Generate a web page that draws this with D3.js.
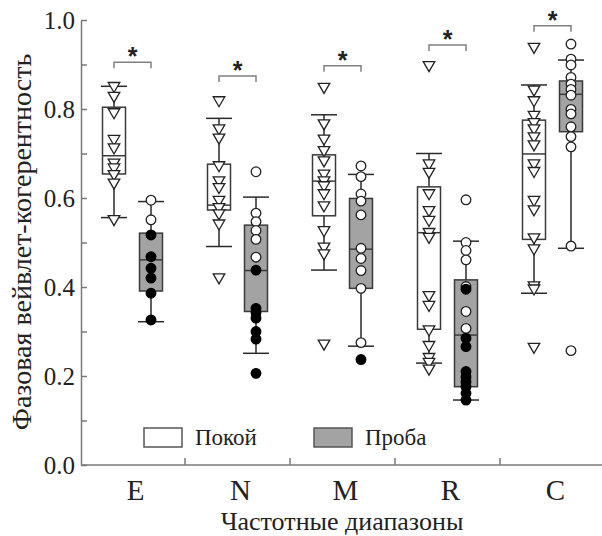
<!DOCTYPE html>
<html lang="ru">
<head>
<meta charset="UTF-8">
<title>Фазовая вейвлет-когерентность</title>
<script src="https://d3js.org/d3.v7.min.js"></script>
<style>
  body { margin: 0; background: #fff; }
  svg { display: block; font-family: "Liberation Serif", "Times New Roman", serif; }
  .axis line, .axis path { stroke: #7a7a7a; stroke-width: 1.5; }
  .box { stroke: #3a3a3a; stroke-width: 1.5; }
  .whisker { stroke: #2a2a2a; stroke-width: 1.5; }
  .bracket { stroke: #808080; stroke-width: 1.5; fill: none; }
</style>
</head>
<body>
<svg id="chart" width="602" height="536"></svg>
<script>
// frequency bands
const categories = ['E', 'N', 'M', 'R', 'C'];
const yTicks = [0, 0.2, 0.4, 0.6, 0.8, 1.0];

// "Покой" (rest) box stats: low whisker, q1, median, q3, high whisker
const restLow  = [0.556, 0.491, 0.438, 0.229, 0.386];
const restQ1   = [0.654, 0.573, 0.560, 0.305, 0.507];
const restMed  = [0.695, 0.584, 0.638, 0.522, 0.699];
const restQ3   = [0.804, 0.676, 0.697, 0.625, 0.775];
const restHigh = [0.851, 0.779, 0.787, 0.700, 0.854];
const restPoints = [
  [0.852, 0.830, 0.793, 0.733, 0.714, 0.680, 0.669, 0.654, 0.635, 0.553],
  [0.820, 0.757, 0.736, 0.674, 0.640, 0.625, 0.596, 0.580, 0.566, 0.543, 0.422],
  [0.850, 0.768, 0.734, 0.708, 0.685, 0.655, 0.640, 0.629, 0.611, 0.584, 0.528, 0.491, 0.476, 0.273],
  [0.899, 0.678, 0.659, 0.611, 0.573, 0.551, 0.524, 0.513, 0.382, 0.360, 0.305, 0.270, 0.243, 0.232, 0.217],
  [0.940, 0.844, 0.820, 0.787, 0.771, 0.757, 0.739, 0.721, 0.678, 0.661, 0.596, 0.575, 0.512, 0.487, 0.404, 0.397, 0.266]
];

// "Проба" (test) box stats
const testLow  = [0.322, 0.251, 0.267, 0.146, 0.487];
const testQ1   = [0.391, 0.345, 0.397, 0.176, 0.749];
const testMed  = [0.461, 0.437, 0.485, 0.292, 0.833];
const testQ3   = [0.521, 0.539, 0.599, 0.416, 0.863];
const testHigh = [0.592, 0.602, 0.653, 0.503, 0.910];
const testOpen = [
  [0.595, 0.551],
  [0.659, 0.566, 0.547, 0.527, 0.507, 0.467],
  [0.672, 0.648, 0.609, 0.593, 0.562, 0.487, 0.464, 0.437, 0.397, 0.275],
  [0.596, 0.500, 0.482, 0.461, 0.401, 0.345, 0.307],
  [0.946, 0.912, 0.899, 0.871, 0.856, 0.844, 0.831, 0.799, 0.789, 0.760, 0.738, 0.715, 0.492, 0.257]
];
const testFilled = [
  [0.517, 0.468, 0.442, 0.420, 0.386, 0.326],
  [0.438, 0.352, 0.342, 0.330, 0.300, 0.283, 0.206],
  [0.237],
  [0.395, 0.285, 0.266, 0.210, 0.198, 0.187, 0.176, 0.161, 0.146],
  []
];

// significance bracket level per band
const bracketLevel = [0.905, 0.874, 0.897, 0.944, 0.987];

const svg = d3.select('#chart');

const x = d3.scaleBand().domain(categories).range([80, 605]);
const y = d3.scaleLinear().domain([0, 1]).range([465, 20]);

const off = 18.5;   // half distance between the two boxes
const boxW = 23;
const capW = 26;

// axes
const yAxis = d3.axisLeft(y).tickValues(d3.range(0, 1.01, 0.1)).tickSize(-6).tickSizeOuter(0)
  .tickFormat(d => yTicks.some(t => Math.abs(t - d) < 1e-6) ? d.toFixed(1) : '');
svg.append('g').attr('class', 'axis').attr('transform', 'translate(81,0)').call(yAxis)
  .call(g => g.selectAll('text').attr('x', -6).attr('font-size', 25).attr('fill', '#222')
    .style('font-family', '"Liberation Serif", serif'));

const xAxis = d3.axisBottom(x).tickSize(0).tickSizeOuter(0);
const gx = svg.append('g').attr('class', 'axis').attr('transform', 'translate(0,465)').call(xAxis);
gx.select('.domain').attr('d', 'M81,0H602');
gx.selectAll('text').attr('y', 14).attr('dx', 3).attr('font-size', 29).attr('fill', '#222')
  .style('font-family', '"Liberation Serif", serif');
// inner ticks between bands
gx.selectAll('.sep').data(categories.slice(1)).join('line')
  .attr('x1', d => x(d)).attr('x2', d => x(d)).attr('y1', 0).attr('y2', -7);

svg.append('text').attr('x', 342).attr('y', 530).attr('text-anchor', 'middle')
  .attr('font-size', 26).attr('fill', '#222').text('Частотные диапазоны');
svg.append('text').attr('transform', 'translate(31,242) rotate(-90)').attr('text-anchor', 'middle')
  .attr('font-size', 28).attr('fill', '#222').text('Фазовая вейвлет-когерентность');

function drawBox(cx, lo, q1, med, q3, hi, fill) {
  const g = svg.append('g');
  g.append('line').attr('class', 'whisker').attr('x1', cx).attr('x2', cx).attr('y1', y(hi)).attr('y2', y(q3));
  g.append('line').attr('class', 'whisker').attr('x1', cx).attr('x2', cx).attr('y1', y(q1)).attr('y2', y(lo));
  g.append('line').attr('class', 'whisker').attr('x1', cx - capW / 2).attr('x2', cx + capW / 2).attr('y1', y(hi)).attr('y2', y(hi));
  g.append('line').attr('class', 'whisker').attr('x1', cx - capW / 2).attr('x2', cx + capW / 2).attr('y1', y(lo)).attr('y2', y(lo));
  g.append('rect').attr('class', 'box').attr('x', cx - boxW / 2).attr('y', y(q3))
    .attr('width', boxW).attr('height', y(q1) - y(q3)).attr('fill', fill);
  g.append('line').attr('class', 'box').attr('x1', cx - boxW / 2).attr('x2', cx + boxW / 2)
    .attr('y1', y(med)).attr('y2', y(med));
}

const tri = d3.symbol().type(d3.symbolTriangle).size(58);

categories.forEach((c, i) => {
  const mid = x(c) + x.bandwidth() / 2;
  const rx = mid - off, tx = mid + off;

  drawBox(rx, restLow[i], restQ1[i], restMed[i], restQ3[i], restHigh[i], '#fff');
  drawBox(tx, testLow[i], testQ1[i], testMed[i], testQ3[i], testHigh[i], '#a3a3a3');

  svg.append('g').selectAll('path').data(restPoints[i]).join('path')
    .attr('d', tri)
    .attr('transform', d => `translate(${rx},${y(d)}) rotate(180)`)
    .attr('fill', '#fff').attr('stroke', '#222').attr('stroke-width', 1.3);

  svg.append('g').selectAll('circle').data(testOpen[i]).join('circle')
    .attr('cx', tx).attr('cy', d => y(d)).attr('r', 4.8)
    .attr('fill', '#fff').attr('stroke', '#222').attr('stroke-width', 1.3);
  svg.append('g').selectAll('circle').data(testFilled[i]).join('circle')
    .attr('cx', tx).attr('cy', d => y(d)).attr('r', 4.8)
    .attr('fill', '#000').attr('stroke', '#000').attr('stroke-width', 1.3);

  // significance bracket
  const by = y(bracketLevel[i]);
  svg.append('path').attr('class', 'bracket')
    .attr('d', `M${rx},${by + 6}V${by}H${tx}V${by + 6}`);
  svg.append('text').attr('x', mid).attr('y', by + 3).attr('text-anchor', 'middle')
    .attr('font-size', 25).attr('font-weight', 'bold').attr('fill', '#222')
    .style('font-family', '"Liberation Sans", sans-serif').text('*');
});

// legend
const legend = [
  { label: 'Покой', fill: '#fff', x: 144 },
  { label: 'Проба', fill: '#a3a3a3', x: 314 }
];
const lg = svg.append('g').selectAll('g').data(legend).join('g')
  .attr('transform', d => `translate(${d.x},428)`);
lg.append('rect').attr('width', 38).attr('height', 19).attr('fill', d => d.fill)
  .attr('stroke', '#555').attr('stroke-width', 1.5);
lg.append('text').attr('x', 51).attr('y', 17).attr('font-size', 23).attr('fill', '#222')
  .text(d => d.label);
</script>
</body>
</html>
